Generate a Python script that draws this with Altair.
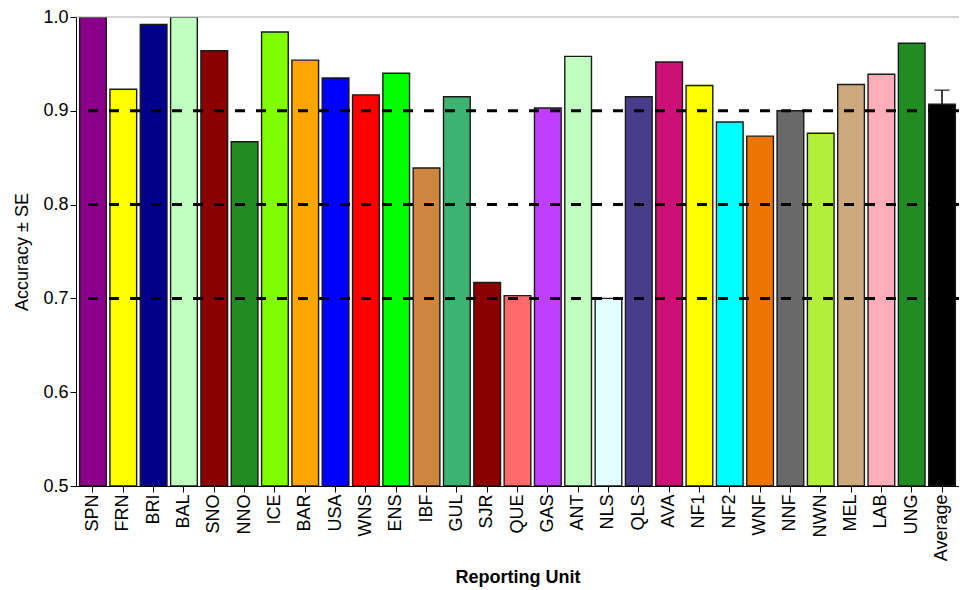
import altair as alt
import pandas as pd

units = ["SPN", "FRN", "BRI", "BAL", "SNO", "NNO", "ICE", "BAR", "USA", "WNS",
         "ENS", "IBF", "GUL", "SJR", "QUE", "GAS", "ANT", "NLS", "QLS", "AVA",
         "NF1", "NF2", "WNF", "NNF", "NWN", "MEL", "LAB", "UNG", "Average"]
accuracy = [1.000, 0.923, 0.992, 1.000, 0.964, 0.867, 0.984, 0.954, 0.935, 0.917,
            0.940, 0.839, 0.915, 0.717, 0.703, 0.903, 0.958, 0.700, 0.915, 0.952,
            0.927, 0.888, 0.873, 0.900, 0.876, 0.928, 0.939, 0.972, 0.907]
colors = ["#8B008B", "#FFFF00", "#00008B", "#C1FFC1", "#8B0000", "#228B22", "#7FFF00",
          "#FFA500", "#0000FF", "#FF0000", "#00FF00", "#CD853F", "#3CB371", "#8B0000",
          "#FF6A6A", "#BF3EFF", "#C1FFC1", "#E0FFFF", "#483D8B", "#CD1076", "#FFFF00",
          "#00FFFF", "#EE7600", "#696969", "#B3EE3A", "#CDAA7D", "#FFAEB9", "#228B22",
          "#000000"]
avg_unit = ["Average"]
avg_value = [0.907]
avg_upper = [0.922]
reference_lines = [0.7, 0.8, 0.9]
top_line = [1.0]
y_ticks = [0.5, 0.6, 0.7, 0.8, 0.9, 1.0]

df = pd.DataFrame({"unit": units, "acc": accuracy})
df_err = pd.DataFrame({"unit": avg_unit, "lo": avg_value, "hi": avg_upper})
df_ref = pd.DataFrame({"y": reference_lines})
df_top = pd.DataFrame({"y": top_line})

FONT = "Liberation Sans"

xscale = alt.Scale(domain=units, paddingInner=0.12, paddingOuter=0.12)
yscale = alt.Scale(domain=[0.5, 1.0], nice=False, zero=False)

x_enc = alt.X(
    "unit:N", scale=xscale, sort=units,
    axis=alt.Axis(title="Reporting Unit", labelAngle=-90, tickSize=6, labelPadding=2,
                  titleFontWeight="bold", titleY=91, titleBaseline="middle"),
)

bars = alt.Chart(df).mark_bar(stroke="#1a1a1a", strokeWidth=1.4, clip=True).encode(
    x=x_enc,
    y=alt.Y("acc:Q", scale=yscale,
            axis=alt.Axis(title="Accuracy ± SE", values=y_ticks, format=".1f", tickSize=6,
                          labelPadding=2, titleFontWeight="normal", titleX=-54,
                          titleBaseline="middle")),
    y2=alt.datum(0.5),
    color=alt.Color("unit:N", scale=alt.Scale(domain=units, range=colors), legend=None),
)

ref = alt.Chart(df_ref).mark_rule(strokeDash=[10, 11], strokeWidth=3, color="black").encode(
    y=alt.Y("y:Q", scale=yscale)
)

top = alt.Chart(df_top).mark_rule(strokeWidth=1, color="#aaaaaa").encode(
    y=alt.Y("y:Q", scale=yscale)
)

err = alt.Chart(df_err).mark_rule(strokeWidth=1.5, color="black").encode(
    x=x_enc,
    y=alt.Y("lo:Q", scale=yscale),
    y2="hi:Q",
)

cap = alt.Chart(df_err).mark_tick(size=15, thickness=1.5, color="black").encode(
    x=x_enc,
    y=alt.Y("hi:Q", scale=yscale),
)

chart = alt.layer(bars, ref, top, err, cap).properties(
    width=883,
    height=469,
    autosize=alt.AutoSizeParams(type="none"),
    padding={"left": 68, "top": 9, "right": 0, "bottom": 104},
).configure_axis(
    labelFont=FONT, titleFont=FONT, labelFontSize=18, titleFontSize=18,
    labelColor="black", titleColor="black", domainColor="black", tickColor="black",
    grid=False,
).configure_view(stroke=None)

chart.save("out.html", embed_options={"renderer": "svg", "actions": False})
